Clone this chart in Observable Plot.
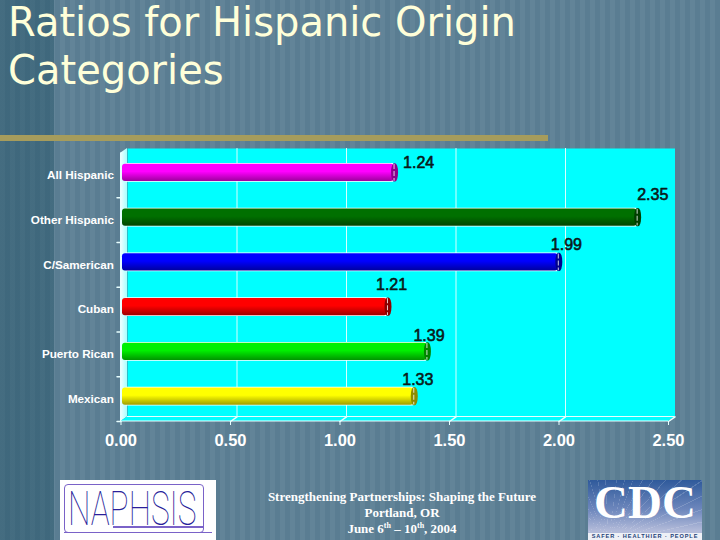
<!DOCTYPE html>
<html><head><meta charset="utf-8">
<script src="https://cdn.jsdelivr.net/npm/d3@7"></script>
<script src="https://cdn.jsdelivr.net/npm/@observablehq/plot@0.6"></script>
<style>
html,body{margin:0;padding:0;width:720px;height:540px;overflow:hidden}
#page{position:relative;width:720px;height:540px;overflow:hidden;
 background:
  linear-gradient(90deg,rgba(20,70,90,.38) 0 54px,transparent 54px),
  repeating-linear-gradient(90deg,#628498 0 5px,#5a7d92 5px 10px);}
#head{position:relative;height:140px}
#title{position:absolute;left:8px;top:-2px;margin:0;font:400 40px/48px "DejaVu Sans",sans-serif;color:#ffffd9;white-space:nowrap}
#rule{position:absolute;left:0;top:135px;width:548px;height:6px;background:#a69c5c}
#chart svg{display:block;overflow:visible}
#foot{position:relative;height:60px}
#caption{position:absolute;left:252px;width:300px;top:9px;text-align:center;font:700 13px/16px "Liberation Serif",serif;color:#fff}
#caption sup{font-size:8px;line-height:0}
#naph{position:absolute;left:60px;top:0;width:156px;height:60px;background:#fff}
#naph .box{position:absolute;left:4px;top:4px;width:138px;height:47px;border:1px solid #7a62c8;border-radius:4px;box-sizing:content-box}
#naph .word{position:absolute;left:8px;top:5px;font:100 48px/48px Roboto,sans-serif;color:#2a1f9a;white-space:nowrap;transform-origin:0 0;transform:scaleX(.66)}
#naph .u{position:absolute;left:4px;top:52px;width:148px;height:1px;background:#7a62c8}
#naph .v{position:absolute;left:53px;top:46px;width:90px;height:2px;background:#7a62c8}
#cdc{position:absolute;left:588px;top:0;width:114px;height:60px;
 background:repeating-conic-gradient(from 0deg at 18% 105%,rgba(255,255,255,.16) 0 .6deg,transparent .6deg 7deg),linear-gradient(180deg,#2f5a9b,#6f88bd 50%,#b4bcda 85%)}
#cdc .big{position:absolute;left:0;right:0;top:0;text-align:center;font:700 47px/44px "Liberation Serif",serif;color:#fff}
#cdc .small{position:absolute;left:0;right:0;bottom:0;height:7px;background:#eef0f6;text-align:center;font:700 5.6px/7px "Liberation Sans",sans-serif;color:#1d3f78;letter-spacing:.9px;white-space:nowrap}
</style></head>
<body><div id="page">
<div id="head"><h1 id="title">Ratios for Hispanic Origin<br>Categories</h1><div id="rule"></div></div>
<div id="chart"></div>
<div id="foot">
 <div id="naph"><div class="box"></div><div class="word">NAPHSIS</div><div class="v"></div><div class="u"></div></div>
 <div id="caption">Strengthening Partnerships: Shaping the Future<br>Portland, OR<br>June 6<sup>th</sup> – 10<sup>th</sup>, 2004</div>
 <div id="cdc"><div class="big">CDC</div><div class="small">SAFER · HEALTHIER · PEOPLE</div></div>
</div>
</div>
<script>
const categories=["All Hispanic","Other Hispanic","C/Samerican","Cuban","Puerto Rican","Mexican"];
const ratios=[1.24,2.35,1.99,1.21,1.39,1.33];
const barColors=["#ff00ff","#007000","#0000ff","#ff0000","#00f000","#ffff00"];
const xTicks=[0,0.5,1,1.5,2,2.5];
const xTickLabels=["0.00","0.50","1.00","1.50","2.00","2.50"];

const rows=categories.map((c,i)=>({c,v:ratios[i],k:barColors[i],g:"g"+i}));
const shade=(k,t)=>d3.interpolateRgb(k,"#000")(t);
const NS="http://www.w3.org/2000/svg";
const el=(n,a)=>{const e=document.createElementNS(NS,n);for(const k in a)e.setAttribute(k,a[k]);return e;};
const labelShift=[[10.5,-12.3],[1.5,-25],[-6,-20],[-10,-25],[-12,-18.5],[-10,-19.5]];
const BAR=-2.5, DX=6.5, DY=-4.5, STEP=44.83;
const lineColor="#e8ffff";

// gradients, side wall and floor of the 3-D box, positioned from the x scale and the frame
const box=(index,{x},values,{marginTop:t,height:h,marginBottom:b})=>{
  const g=el("g",{});
  const d=el("defs",{});
  rows.forEach(r=>{
    const lg=el("linearGradient",{id:r.g,x1:0,x2:0,y1:0,y2:1});
    [[0,r.k],[.45,r.k],[1,shade(r.k,.38)]].forEach(([o,c])=>lg.appendChild(el("stop",{offset:o,"stop-color":c})));
    d.appendChild(lg);
  });
  const sg=el("linearGradient",{id:"side",x1:0,x2:1,y1:0,y2:0});
  [[0,"#f0ffff"],[1,"#a8ffff"]].forEach(([o,c])=>sg.appendChild(el("stop",{offset:o,"stop-color":c})));
  d.appendChild(sg);g.appendChild(d);
  const x0=x(0),x1=x(2.5),B=h-b;
  const P=(pts,a)=>el("polygon",{points:pts.map(p=>p.join(",")).join(" "),...a});
  g.appendChild(P([[x0,t],[x0+DX,t+DY],[x0+DX,B+DY],[x0,B]],{fill:"url(#side)"}));
  g.appendChild(P([[x0,B],[x0+DX,B+DY],[x1+DX,B+DY],[x1,B]],{fill:"#00ffff"}));
  g.appendChild(el("path",{d:`M${x0},${B}H${x1}M${x0+DX},${B+DY}H${x1+DX}M${x0},${B}V${t}`,stroke:lineColor,fill:"none"}));
  return g;
};
const spike={draw(c,l){c.moveTo(0,0);c.lineTo(0,-l);}};

const plot=Plot.plot({
  width:720,height:340,
  marginLeft:120.5,marginRight:52,marginTop:12.5,marginBottom:59,
  style:{background:"transparent",overflow:"visible"},
  x:{domain:[0,2.5],label:null},
  y:{domain:categories,padding:0,round:false,label:null},
  marks:[
    // back wall
    Plot.frame({fill:"#00ffff",stroke:null,dx:DX,dy:DY}),
    box,
    // grid lines on the wall
    Plot.ruleX(xTicks.slice(1,-1),{dx:DX,dy:DY,stroke:"#d8ffff",strokeWidth:1}),
    // floor diagonals
    Plot.vector(xTicks.slice(1),{x:d=>d,frameAnchor:"bottom",length:8,rotate:55,anchor:"start",shape:spike,stroke:lineColor}),
    // category separators
    Plot.vector(categories,{y:d=>d,x:()=>0,dy:STEP/2,length:4,rotate:-90,anchor:"start",shape:spike,stroke:lineColor}),
    // white rim then bars
    Plot.barX(rows,{x1:0,x2:"v",y:"c",dx:5,dy:BAR,insetTop:13,insetBottom:13,fill:"#fff",insetRight:4}),
    Plot.barX(rows,{x1:0,x2:"v",y:"c",dx:1.5,dy:BAR,insetTop:13.7,insetBottom:13.7,rx:3,fill:d=>`url(#${d.g})`}),
    // end caps
    Plot.barX(rows,{x1:"v",x2:"v",y:"c",dy:BAR,insetLeft:-1,insetRight:-6,insetTop:13.2,insetBottom:13.2,rx:3,ry:9,fill:d=>shade(d.k,.45)}),
    Plot.tickX(rows,{x:"v",y:"c",dx:1.5,dy:BAR,insetTop:14,insetBottom:14,stroke:"#fff",strokeWidth:.8,strokeDasharray:"5 2"}),
    // y axis
    Plot.axisY({anchor:"left",tickSize:0,tickPadding:7,fill:"#fff",fontSize:11.7,fontWeight:700,fontFamily:"Liberation Sans",label:null}),
    // value labels
    ...rows.map((r,i)=>Plot.text([r],{x:"v",y:"c",text:d=>d.v.toFixed(2),textAnchor:"start",dx:labelShift[i][0],dy:labelShift[i][1],fontSize:16,fontFamily:"Liberation Sans",fontWeight:400,fill:"#0a1a1a",stroke:"#0a1a1a",strokeWidth:.6})),
    // x axis
    Plot.axisX(xTicks,{anchor:"bottom",tickSize:4,tickPadding:9,stroke:lineColor,tickFormat:(d,i)=>xTickLabels[i],fill:"#fff",fontSize:16.5,fontWeight:700,fontFamily:"Liberation Sans",label:null}),
  ]
});
document.getElementById("chart").appendChild(plot);
</script>
</body></html>
